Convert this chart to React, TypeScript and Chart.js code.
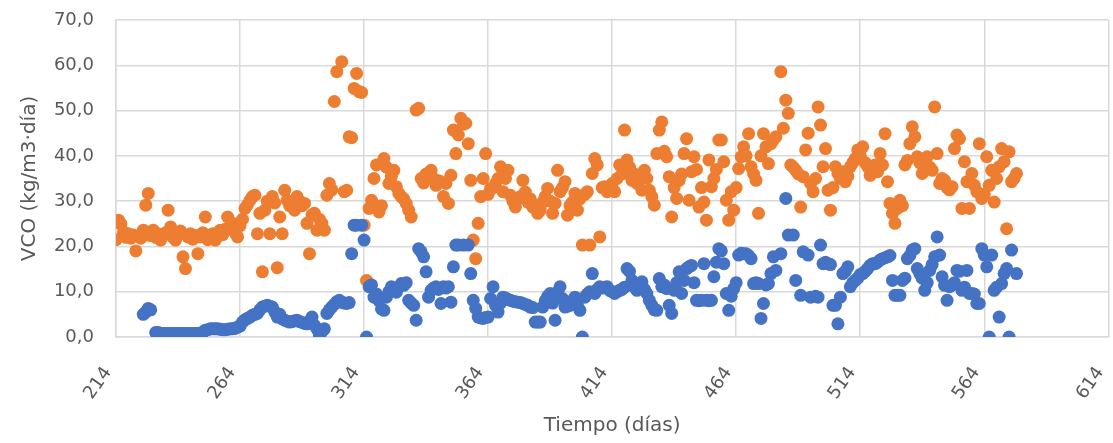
import React, { useEffect, useRef } from 'react';
import { Chart, registerables } from 'chart.js';

Chart.register(...registerables);

// ---- data ----
const xTickValues = [214, 264, 314, 364, 414, 464, 514, 564, 614];
const yTickValues = [0, 10, 20, 30, 40, 50, 60, 70];

const orangeDays = [
  214, 215, 216, 217, 218, 219, 220, 221, 222, 223, 224, 225, 226, 227, 228, 229, 230, 231, 232, 233,
  234, 235, 236, 237, 238, 239, 240, 241, 242, 243, 244, 245, 246, 247, 248, 249, 250, 251, 252, 253,
  254, 255, 256, 257, 258, 259, 260, 261, 262, 263, 264, 265, 266, 267, 268, 269, 270, 271, 272, 273,
  274, 275, 276, 277, 278, 279, 280, 281, 282, 283, 284, 285, 286, 287, 288, 289, 290, 291, 292, 293,
  294, 295, 296, 297, 298, 299, 300, 301, 302, 303, 305, 306, 307, 308, 309, 310, 311, 312, 313, 314,
  315, 316, 317, 318, 319, 320, 321, 322, 323, 324, 325, 326, 327, 328, 329, 330, 331, 332, 333, 335,
  336, 337, 338, 339, 340, 341, 342, 343, 344, 345, 346, 347, 348, 349, 350, 351, 352, 353, 354, 355,
  356, 357, 358, 359, 360, 361, 362, 363, 364, 365, 366, 367, 368, 369, 370, 371, 372, 373, 374, 375,
  376, 377, 378, 379, 380, 381, 382, 383, 384, 385, 386, 387, 388, 389, 390, 391, 392, 393, 394, 395,
  396, 397, 398, 399, 400, 401, 402, 403, 404, 405, 406, 407, 408, 409, 410, 411, 412, 413, 414, 415,
  416, 417, 418, 419, 420, 421, 422, 423, 424, 425, 426, 427, 428, 429, 430, 431, 432, 433, 434, 435,
  436, 437, 438, 439, 440, 441, 442, 443, 444, 445, 446, 447, 448, 449, 450, 451, 452, 453, 454, 455,
  456, 457, 458, 459, 460, 461, 462, 463, 464, 465, 466, 467, 468, 469, 470, 471, 472, 473, 474, 475,
  476, 477, 478, 479, 480, 482, 483, 484, 485, 486, 487, 488, 489, 490, 491, 492, 493, 494, 495, 496,
  497, 498, 499, 500, 501, 502, 503, 504, 505, 506, 507, 508, 509, 510, 511, 512, 513, 514, 515, 516,
  517, 518, 519, 520, 521, 522, 523, 524, 525, 526, 527, 528, 529, 530, 531, 532, 533, 534, 535, 536,
  537, 538, 539, 540, 541, 542, 543, 544, 545, 546, 547, 548, 549, 550, 551, 552, 553, 554, 555, 556,
  557, 558, 559, 560, 561, 562, 563, 564, 565, 566, 567, 568, 569, 570, 571, 572, 573, 574, 575, 576,
  577,
];
const orangeValues = [
  21.5, 25.8, 25.0, 23.2, 22.0, 22.8, 21.8, 22.5, 19.0, 22.3, 21.8, 23.6, 29.1, 31.7, 22.4, 23.6, 22.0, 22.8, 21.4, 22.5,
  23.0, 28.0, 24.3, 22.0, 21.4, 22.6, 23.4, 17.7, 15.1, 22.1, 22.8, 21.6, 22.4, 18.4, 22.1, 23.0, 26.5, 21.5, 22.1, 22.8,
  21.4, 22.2, 23.6, 22.6, 23.8, 26.5, 24.2, 25.1, 23.0, 22.1, 24.6, 26.0, 28.4, 29.2, 30.2, 31.0, 31.3, 22.8, 27.3, 14.4,
  28.0, 30.0, 22.8, 31.0, 29.6, 15.3, 26.5, 22.8, 32.4, 30.2, 29.0, 29.8, 28.0, 31.0, 30.0, 29.0, 29.5, 25.1, 18.4, 27.0,
  27.3, 23.6, 26.0, 25.1, 23.6, 31.3, 33.9, 32.5, 52.0, 58.6, 60.8, 32.1, 32.4, 44.2, 44.0, 54.9, 58.2, 54.2, 54.0, 24.7,
  12.5, 28.4, 30.2, 35.0, 38.0, 27.6, 29.0, 39.4, 37.5, 33.9, 35.5, 36.8, 33.2, 31.7, 31.0, 30.5, 29.5, 28.0, 26.5, 50.1,
  50.5, 35.0, 34.0, 36.0, 36.1, 36.8, 35.0, 33.5, 34.5, 34.3, 31.0, 33.9, 29.5, 35.7, 45.7, 40.5, 44.6, 48.3, 47.0, 47.2,
  42.7, 34.6, 21.4, 17.3, 25.1, 31.0, 35.0, 40.5, 31.5, 32.8, 33.0, 33.9, 35.0, 37.6, 32.1, 35.0, 36.8, 31.3, 30.0, 28.7,
  30.5, 31.0, 34.6, 32.0, 29.8, 30.5, 28.7, 29.0, 27.3, 28.0, 29.8, 31.0, 32.8, 30.0, 27.3, 29.5, 36.8, 32.1, 33.0, 34.3,
  26.9, 29.0, 29.8, 31.7, 28.0, 30.5, 20.3, 31.5, 32.1, 20.3, 36.1, 39.4, 38.0, 22.1, 33.0, 33.2, 32.1, 33.2, 33.9, 32.1,
  35.0, 38.0, 36.0, 45.7, 39.1, 37.5, 34.6, 36.0, 33.9, 35.0, 32.4, 36.8, 35.0, 32.4, 31.0, 29.1, 40.5, 45.7, 47.5, 41.0,
  39.8, 35.4, 26.5, 33.0, 30.6, 34.6, 36.0, 40.5, 43.8, 30.2, 36.5, 39.8, 37.0, 28.7, 33.0, 29.8, 25.8, 39.1, 33.2, 35.0,
  37.0, 43.5, 43.5, 38.7, 30.2, 25.8, 32.1, 28.0, 33.0, 37.2, 39.8, 42.0, 40.0, 44.9, 37.6, 36.0, 34.6, 27.3, 40.0, 44.9,
  42.0, 38.3, 42.7, 43.5, 44.2, 58.6, 46.1, 52.3, 49.4, 38.0, 37.5, 36.8, 36.0, 28.7, 35.4, 41.3, 45.0, 33.9, 32.1, 35.0,
  50.8, 46.8, 37.6, 41.6, 32.4, 28.0, 33.0, 37.6, 36.1, 35.0, 36.5, 34.3, 35.5, 37.6, 38.5, 39.4, 41.3, 40.0, 42.0, 38.5,
  37.6, 35.7, 37.0, 38.0, 36.5, 40.5, 38.0, 44.9, 34.3, 29.5, 27.3, 25.1, 28.4, 30.2, 29.0, 38.0, 39.0, 42.7, 46.4, 44.2,
  39.8, 38.5, 36.1, 38.0, 39.8, 37.5, 36.8, 50.8, 40.5, 33.9, 35.0, 34.6, 33.0, 32.5, 33.2, 41.6, 44.6, 43.8, 28.4, 38.7,
  34.3, 28.4, 36.1, 33.5, 32.1, 42.7, 30.6, 31.5, 39.8, 33.5, 36.8, 29.8, 35.0, 37.6, 41.6, 38.7, 23.9, 40.9, 34.3, 35.0,
  36.1,
];

const blueDays = [
  225, 226, 227, 228, 230, 231, 232, 233, 234, 235, 236, 237, 238, 239, 240, 241, 242, 243, 244, 245,
  246, 247, 248, 249, 250, 251, 252, 253, 254, 255, 256, 257, 258, 259, 260, 261, 262, 263, 264, 265,
  266, 267, 268, 269, 270, 271, 272, 273, 274, 275, 276, 277, 278, 279, 280, 281, 282, 283, 284, 285,
  286, 287, 288, 289, 290, 291, 292, 293, 294, 295, 296, 297, 298, 299, 300, 301, 302, 303, 304, 305,
  306, 307, 308, 309, 310, 311, 313, 314, 315, 316, 317, 318, 319, 320, 321, 322, 323, 324, 325, 326,
  327, 328, 329, 330, 331, 332, 333, 334, 335, 336, 337, 338, 339, 340, 341, 342, 343, 344, 345, 346,
  347, 348, 349, 350, 351, 352, 354, 356, 357, 358, 359, 360, 361, 362, 363, 364, 365, 366, 367, 368,
  369, 370, 371, 372, 373, 374, 375, 376, 377, 378, 379, 380, 381, 382, 383, 384, 385, 386, 387, 388,
  389, 390, 391, 392, 393, 394, 395, 396, 397, 398, 399, 400, 401, 402, 403, 404, 405, 406, 407, 408,
  409, 410, 411, 412, 413, 414, 415, 416, 417, 418, 419, 420, 421, 422, 423, 424, 425, 426, 427, 428,
  429, 430, 431, 432, 433, 434, 435, 436, 437, 438, 439, 440, 441, 442, 443, 444, 445, 446, 447, 448,
  449, 450, 451, 452, 453, 454, 455, 456, 457, 458, 459, 460, 461, 462, 463, 464, 465, 466, 467, 468,
  469, 470, 471, 472, 473, 474, 475, 476, 477, 478, 479, 480, 482, 484, 485, 487, 488, 490, 491, 493,
  494, 496, 497, 498, 499, 500, 501, 502, 503, 504, 505, 506, 507, 508, 509, 510, 511, 512, 513, 514,
  515, 516, 517, 518, 519, 520, 521, 522, 523, 524, 525, 526, 527, 528, 529, 530, 531, 532, 533, 534,
  535, 536, 537, 538, 539, 540, 541, 542, 543, 544, 545, 546, 547, 548, 549, 550, 551, 552, 553, 554,
  555, 556, 557, 558, 559, 560, 561, 562, 563, 564, 565, 566, 567, 568, 569, 570, 571, 572, 573, 574,
  575, 577,
];
const blueValues = [
  5.0, 5.5, 6.3, 6.0, 1.0, 1.0, 0.8, 0.8, 0.8, 0.8, 0.8, 0.8, 0.8, 0.8, 0.8, 0.8, 0.8, 0.8, 0.8, 0.8,
  0.8, 0.8, 0.9, 1.0, 1.5, 1.6, 1.8, 1.8, 1.8, 1.8, 1.7, 1.6, 1.6, 1.7, 1.8, 1.8, 1.9, 2.2, 2.4, 3.3,
  3.8, 4.1, 4.4, 4.8, 5.0, 5.2, 6.0, 6.6, 6.8, 7.0, 6.8, 6.6, 5.5, 4.4, 5.0, 4.0, 3.7, 3.5, 3.3, 3.4,
  3.6, 3.7, 3.4, 3.2, 3.0, 2.9, 3.5, 4.4, 2.6, 1.8, 0.4, 1.2, 1.8, 5.2, 6.0, 6.6, 7.2, 7.8, 8.1, 7.7,
  7.5, 7.4, 7.6, 18.4, 24.7, 24.7, 24.7, 21.4, 0.0, 11.1, 11.5, 8.8, 9.5, 8.0, 6.2, 5.9, 8.8, 10.0, 11.1, 10.5,
  9.9, 11.0, 11.8, 11.4, 12.0, 8.1, 7.5, 7.0, 3.7, 19.5, 18.8, 17.7, 14.4, 8.8, 10.3, 10.8, 11.1, 10.5, 7.4, 11.1,
  10.8, 11.1, 7.7, 15.5, 20.3, 20.3, 20.3, 20.3, 14.0, 8.1, 6.3, 4.4, 4.2, 4.1, 4.3, 4.4, 8.5, 11.1, 7.0, 5.5,
  7.5, 8.8, 8.6, 8.3, 8.1, 7.9, 7.8, 7.7, 7.6, 7.4, 7.2, 7.0, 6.6, 6.5, 3.3, 3.3, 3.3, 6.6, 8.0, 9.0,
  9.6, 7.5, 3.7, 9.9, 11.1, 8.5, 6.6, 6.8, 7.0, 8.0, 8.8, 7.0, 5.9, 0.0, 8.8, 9.5, 10.0, 14.0, 9.6, 10.5,
  11.1, 10.8, 11.0, 11.1, 10.3, 10.0, 9.6, 10.0, 10.3, 10.5, 11.0, 15.1, 14.5, 12.5, 11.0, 10.3, 11.5, 12.2, 10.5, 9.6,
  8.1, 7.0, 6.0, 5.9, 12.9, 11.1, 11.5, 10.7, 7.0, 5.2, 10.3, 12.0, 14.4, 9.6, 12.5, 15.1, 15.5, 15.8, 12.0, 8.1,
  8.0, 8.1, 16.2, 8.1, 8.0, 8.1, 13.3, 16.5, 19.5, 19.0, 16.2, 9.6, 5.9, 9.0, 10.7, 12.0, 18.1, 18.5, 18.4, 18.4,
  18.0, 17.3, 11.8, 12.0, 11.8, 4.1, 7.4, 11.5, 11.8, 14.0, 17.7, 14.7, 18.4, 30.6, 22.5, 22.5, 12.5, 9.2, 18.8, 18.1,
  8.8, 9.0, 8.8, 20.3, 16.2, 16.5, 16.2, 16.0, 7.0, 7.0, 2.9, 8.8, 14.0, 14.5, 15.5, 11.1, 12.0, 12.5, 13.0, 13.8,
  14.0, 14.5, 15.1, 15.8, 16.2, 16.2, 16.5, 17.0, 17.3, 17.5, 17.7, 18.0, 12.5, 9.2, 9.2, 9.2, 12.5, 13.0, 17.3, 18.0,
  19.2, 19.5, 15.1, 14.0, 13.0, 10.3, 12.0, 14.7, 16.0, 17.7, 22.1, 18.1, 13.3, 11.4, 8.1, 11.1, 11.5, 12.0, 14.7, 14.5,
  10.3, 11.0, 14.7, 9.6, 9.6, 9.5, 7.4, 7.4, 19.5, 18.1, 15.5, 0.0, 18.1, 10.3, 11.0, 4.4, 11.8, 14.0, 15.1, 0.0,
  19.2, 14.0,
];

const ORANGE = '#ED7D31';
const BLUE = '#4472C4';
const TEXT = '#595959';
const GRID = '#d9d9d9';
const FONT = '"DejaVu Sans", "Open Sans", sans-serif';

export default function App() {
  const canvasRef = useRef<HTMLCanvasElement | null>(null);

  useEffect(() => {
    if (!canvasRef.current) return;
    const orangePts = orangeDays.map((d, i) => ({ x: d, y: orangeValues[i] }));
    const bluePts = blueDays.map((d, i) => ({ x: d, y: blueValues[i] }));

    const chart = new Chart(canvasRef.current, {
      type: 'scatter',
      data: {
        datasets: [
          {
            label: 'Serie 1',
            data: orangePts,
            backgroundColor: ORANGE,
            borderWidth: 0,
            pointRadius: 6.5,
            pointHoverRadius: 6.5,
            order: 1,
          },
          {
            label: 'Serie 2',
            data: bluePts,
            backgroundColor: BLUE,
            borderWidth: 0,
            pointRadius: 6.5,
            pointHoverRadius: 6.5,
            order: 0,
          },
        ],
      },
      options: {
        animation: false,
        responsive: true,
        maintainAspectRatio: false,
        layout: { padding: { top: 20, right: 0, left: 0, bottom: 0 } },
        plugins: {
          legend: { display: false },
          tooltip: { enabled: false },
        },
        scales: {
          x: {
            type: 'linear',
            min: 214,
            max: 614,
            afterBuildTicks: (scale: any) => {
              scale.ticks = xTickValues.map((v) => ({ value: v }));
            },
            afterFit: (scale: any) => {
              scale.height = 106;
            },
            ticks: {
              autoSkip: false,
              minRotation: 55,
              maxRotation: 55,
              padding: 0,
              labelOffset: -8,
              color: TEXT,
              font: { family: FONT, size: 18 },
            },
            grid: {
              color: GRID,
              lineWidth: 1.5,
              drawTicks: true,
              tickLength: 26,
              tickColor: 'rgba(0,0,0,0)',
            },
            border: { color: GRID, width: 1.5 },
            title: {
              display: true,
              text: 'Tiempo (días)',
              color: TEXT,
              font: { family: FONT, size: 20 },
              padding: { top: 0, bottom: 5 },
            },
          },
          y: {
            type: 'linear',
            min: 0,
            max: 70,
            afterBuildTicks: (scale: any) => {
              scale.ticks = yTickValues.map((v) => ({ value: v }));
            },
            afterFit: (scale: any) => {
              scale.width = 116;
            },
            ticks: {
              padding: 0,
              color: TEXT,
              font: { family: FONT, size: 18 },
              callback: (v: any) => Number(v).toFixed(1).replace('.', ','),
            },
            grid: {
              color: GRID,
              lineWidth: 1.5,
              drawTicks: true,
              tickLength: 22,
              tickColor: 'rgba(0,0,0,0)',
            },
            border: { color: GRID, width: 1.5 },
            title: {
              display: true,
              text: 'VCO (kg/m3·día)',
              color: TEXT,
              font: { family: FONT, size: 20 },
              padding: { top: 18, bottom: 0 },
            },
          },
        },
      },
    });
    return () => chart.destroy();
  }, []);

  return (
    <div style={{ position: 'fixed', left: 0, top: 0, width: 1113, height: 443, overflow: 'hidden', background: '#fff' }}>
      <div style={{ position: 'absolute', left: 0, top: 0, width: 1126, height: 443 }}>
        <canvas ref={canvasRef} />
      </div>
    </div>
  );
}
